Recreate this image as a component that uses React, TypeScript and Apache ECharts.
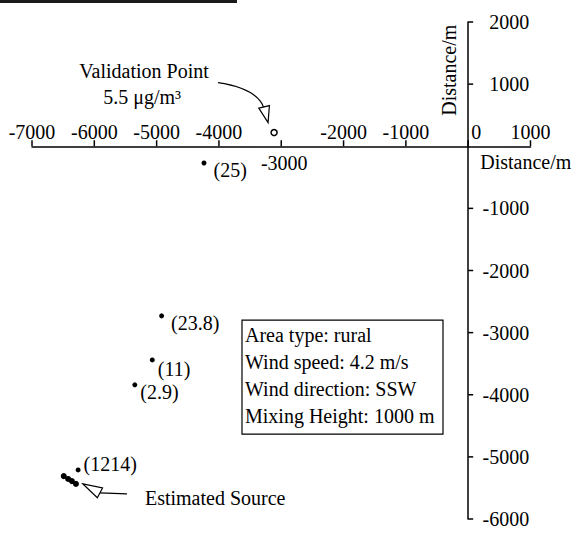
import React, { useEffect, useRef } from "react";
import * as echarts from "echarts";

// ---- data ----
const xRange = [-7000, 1000];
const yRange = [-6000, 2000];
const tickStep = 1000;
const xTickValues = [-7000, -6000, -5000, -4000, -3000, -2000, -1000, 0, 1000];
const yTickValues = [2000, 1000, -1000, -2000, -3000, -4000, -5000, -6000];
const sampleX = [-4240, -4920, -5070, -5350, -6260];
const sampleY = [-270, -2730, -3440, -3840, -5210];
const sampleConc = ["25", "23.8", "11", "2.9", "1214"];
const sourceX = [-6490, -6420, -6360, -6295];
const sourceY = [-5310, -5355, -5390, -5435];
const validationX = [-3115];
const validationY = [220];
const validationText = ["Validation Point", "5.5 μg/m³"];
const sourceText = "Estimated Source";
const infoLines = ["Area type: rural", "Wind speed: 4.2 m/s", "Wind direction: SSW", "Mixing Height: 1000 m"];
const axisTitle = "Distance/m";
const infoBoxCorner = [-3630, -2800];

// ---- styles ----
const labelOffsets = [[4, 7], [4, 7], [0, 9], [0, 7], [0, -6]];
const FONT_FAMILY = "'Liberation Serif', 'Times New Roman', serif";
const FONT = "20px 'Liberation Serif', 'Times New Roman', serif";
const labelBase = { color: "#000", fontFamily: FONT_FAMILY, fontSize: 20, opacity: 1 };
const HIDDEN = { color: "rgba(0,0,0,0)", opacity: 0 };

function txt(x: number, y: number, text: string, align = "center", vAlign = "middle", extra: any = {}) {
  return {
    type: "text",
    x,
    y,
    ...extra,
    style: {
      text,
      font: FONT,
      fill: "#000",
      align,
      verticalAlign: vAlign,
      textAlign: align,
      textVerticalAlign: vAlign,
    },
  };
}

function xTickLabelItem(v: number) {
  const item: any = { name: String(v), value: [v, 0] };
  if (v === 0) item.label = { offset: [8, 0] };
  if (v === -3000) item.label = { position: "bottom", distance: 6, offset: [3, 0] };
  return item;
}

export default function App() {
  const ref = useRef<HTMLDivElement>(null);
  useEffect(() => {
    if (!ref.current) return;
    const chart = echarts.init(ref.current, null, { renderer: "svg" });
    const axisLine = { show: true, onZero: true, lineStyle: { color: "#000", width: 1.5 } };
    chart.setOption({
      animation: false,
      backgroundColor: "#fff",
      grid: { left: 32, right: 45.5, top: 22, bottom: 19, containLabel: false, outerBoundsMode: "none" },
      xAxis: {
        type: "value",
        min: xRange[0],
        max: xRange[1],
        interval: tickStep,
        axisLine,
        axisTick: { show: false },
        axisLabel: { show: false },
        splitLine: { show: false },
      },
      yAxis: {
        type: "value",
        min: yRange[0],
        max: yRange[1],
        interval: tickStep,
        axisLine,
        axisTick: { show: false },
        axisLabel: { show: false },
        splitLine: { show: false },
      },
      series: [
        {
          type: "scatter",
          name: "xTicks",
          silent: true,
          symbol: "rect",
          symbolSize: [1.5, 6],
          symbolOffset: [0, -3],
          itemStyle: { color: "#000", opacity: 1 },
          data: xTickValues.map((v) => [v, 0]),
        },
        {
          type: "scatter",
          name: "yTicks",
          silent: true,
          symbol: "rect",
          symbolSize: [5, 1.5],
          symbolOffset: [2.5, 0],
          itemStyle: { color: "#000", opacity: 1 },
          data: yTickValues.map((v) => [0, v]),
        },
        {
          type: "scatter",
          name: "xTickLabels",
          silent: true,
          symbol: "circle",
          symbolSize: 1,
          itemStyle: HIDDEN,
          label: { show: true, position: "top", distance: 4, formatter: "{b}", ...labelBase },
          data: xTickValues.map(xTickLabelItem),
        },
        {
          type: "scatter",
          name: "yTickLabels",
          silent: true,
          symbol: "circle",
          symbolSize: 1,
          itemStyle: HIDDEN,
          label: { show: true, position: "inside", align: "right", offset: [61, 0], formatter: "{b}", ...labelBase },
          data: yTickValues.map((v) => ({ name: String(v), value: [0, v] })),
        },
        {
          type: "scatter",
          name: "samples",
          symbol: "circle",
          symbolSize: 5,
          itemStyle: { color: "#000", opacity: 1 },
          label: {
            show: true,
            position: "right",
            distance: 3,
            formatter: "{b}",
            ...labelBase,
          },
          data: sampleX.map((x, i) => ({
            name: "(" + sampleConc[i] + ")",
            value: [x, sampleY[i]],
            label: { offset: labelOffsets[i] },
          })),
        },
        {
          type: "scatter",
          name: "source",
          symbol: "circle",
          symbolSize: 6,
          itemStyle: { color: "#000", opacity: 1 },
          data: sourceX.map((x, i) => [x, sourceY[i]]),
        },
        {
          type: "scatter",
          name: "validation",
          symbol: "circle",
          symbolSize: 6,
          itemStyle: { color: "#fff", borderColor: "#000", borderWidth: 1.5, opacity: 1 },
          data: validationX.map((x, i) => [x, validationY[i]]),
        },
      ],
    });

    const px = (x: number, y: number) => chart.convertToPixel({ gridIndex: 0 }, [x, y]) as number[];
    const O = px(0, 0);
    const V = px(validationX[0], validationY[0]);
    const S = px(sourceX[sourceX.length - 1], sourceY[sourceY.length - 1]);
    const B = px(infoBoxCorner[0], infoBoxCorner[1]);
    const arrowStroke = { stroke: "#000", lineWidth: 1.3, fill: "none" };
    const headStyle = { stroke: "#000", lineWidth: 1.2, fill: "#fff" };

    chart.setOption({
      graphic: [
        { type: "rect", shape: { x: 0, y: 0, width: 237, height: 3 }, style: { fill: "#1a1a1a" } },
        txt(O[0] + 12, O[1] + 16, axisTitle, "left"),
        txt(O[0] - 19, O[1] - 76, axisTitle, "center", "middle", { rotation: Math.PI / 2 }),
        txt(V[0] - 130, V[1] - 62, validationText[0]),
        txt(V[0] - 132, V[1] - 36, validationText[1]),
        {
          type: "bezierCurve",
          shape: { x1: V[0] - 56, y1: V[1] - 50, cpx1: V[0] - 16, cpy1: V[1] - 44, x2: V[0] - 10, y2: V[1] - 24 },
          style: arrowStroke,
        },
        {
          type: "polygon",
          shape: { points: [[V[0] - 6, V[1] - 10], [V[0] - 4.7, V[1] - 27], [V[0] - 15.3, V[1] - 24.4]] },
          style: headStyle,
        },
        {
          type: "line",
          shape: { x1: S[0] + 24, y1: S[1] + 9, x2: S[0] + 51, y2: S[1] + 10 },
          style: { stroke: "#000", lineWidth: 1.3 },
        },
        {
          type: "polygon",
          shape: { points: [[S[0] + 7, S[1]], [S[0] + 26.6, S[1] + 4.1], [S[0] + 21.4, S[1] + 13.9]] },
          style: headStyle,
        },
        txt(S[0] + 69, S[1] + 14, sourceText, "left"),
        {
          type: "rect",
          shape: { x: B[0], y: B[1], width: 201, height: 114 },
          style: { fill: "#fff", stroke: "#000", lineWidth: 1.2 },
        },
        {
          type: "text",
          x: B[0] + 3,
          y: B[1] + 1,
          style: {
            text: infoLines.join("\n"),
            font: FONT,
            lineHeight: 27,
            fill: "#000",
            align: "left",
            verticalAlign: "top",
            textAlign: "left",
            textVerticalAlign: "top",
          },
        },
      ],
    });
    return () => chart.dispose();
  }, []);
  return <div ref={ref} style={{ position: "fixed", left: 0, top: 0, width: 576, height: 538 }} />;
}
